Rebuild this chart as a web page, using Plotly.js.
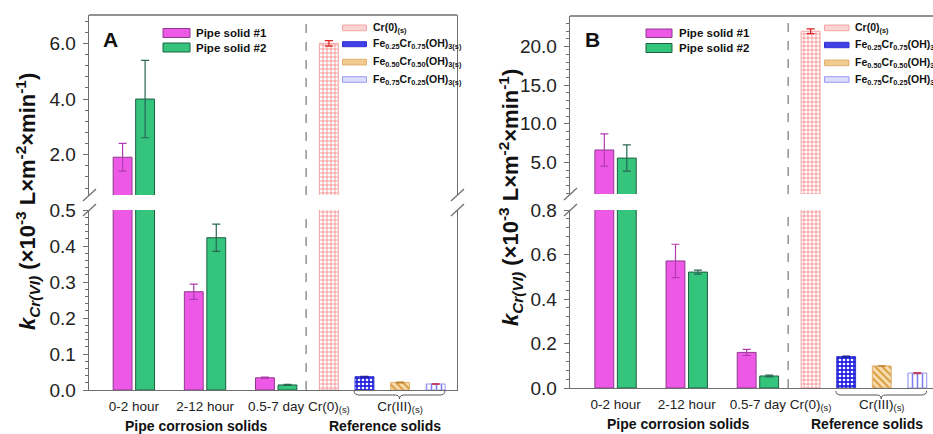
<!DOCTYPE html>
<html>
<head>
<meta charset="utf-8">
<script src="https://cdn.plot.ly/plotly-3.0.1.min.js"></script>
<style>html,body{margin:0;padding:0;background:#fff;}#chart{width:933px;height:434px;}</style>
</head>
<body>
<div id="chart"></div>
<script>
// ---------- data ----------
const periods = ['0-2 hour', '2-12 hour', '0.5-7 day'];
const pipeNames = ['Pipe solid #1', 'Pipe solid #2'];
const refNames = ['Cr(0)<sub>(s)</sub>',
  'Fe<sub>0.25</sub>Cr<sub>0.75</sub>(OH)<sub>3(s)</sub>',
  'Fe<sub>0.50</sub>Cr<sub>0.50</sub>(OH)<sub>3(s)</sub>',
  'Fe<sub>0.75</sub>Cr<sub>0.25</sub>(OH)<sub>3(s)</sub>'];
const refTickLabels = ['Cr(0)<sub>(s)</sub>', 'Cr(III)<sub>(s)</sub>'];
const groupLabels = ['Pipe corrosion solids', 'Reference solids'];

// Panel A
const pipe1A = [1.91, 0.273, 0.034];
const pipe1ErrA = [0.50, 0.021, 0.002];
const pipe2A = [4.00, 0.423, 0.014];
const pipe2ErrA = [1.39, 0.038, 0.0015];
const refA = [6.00, 0.037, 0.021, 0.0167];
const refErrA = [0.10, 0.001, 0.001, 0.001];
// Panel B
const pipe1B = [6.60, 0.571, 0.160];
const pipe1ErrB = [2.10, 0.075, 0.014];
const pipe2B = [5.55, 0.521, 0.054];
const pipe2ErrB = [1.70, 0.009, 0.004];
const refB = [22.0, 0.141, 0.099, 0.067];
const refErrB = [0.30, 0.002, 0.001, 0.002];

// ---------- helpers / styles ----------
const W = 933, TOP = 15, BOT = 390, H = BOT - TOP;
const PX = p => p / W;
const PY = p => (BOT - p) / H;
const FONT = 'Liberation Sans, Arial, sans-serif';
const AXC = '#6e6e6e';

const pipeStyle = [
  {fill: '#EE58E6', edge: '#8E3A8E', err: '#B23BB0'},
  {fill: '#34C47C', edge: '#1F5E40', err: '#2A6556'}
];
const refStyle = [
  {pattern: {shape: '+', fgcolor: '#F26A6A', bgcolor: '#ffffff', size: 4, solidity: 0.3}, edge: '#F4A6A6', err: '#E02020', swatch: '#FBD2D2'},
  {pattern: {shape: '.', fgcolor: '#ffffff', bgcolor: '#2222E0', size: 4, solidity: 0.35}, edge: '#3030D0', err: '#2020A0', swatch: '#4040E6'},
  {pattern: {shape: '\\', fgcolor: '#D99A3A', bgcolor: '#F6DDB0', size: 5, solidity: 0.4}, edge: '#E0B070', err: '#C08030', swatch: '#F0CC90'},
  {pattern: {shape: '|', fgcolor: '#7C7CF2', bgcolor: '#ffffff', size: 5, solidity: 0.3}, edge: '#9A9AF5', err: '#C04060', swatch: '#DCDCFF'}
];

const BARW = 0.53, OFF = 0.316;
const groupX = i => 1 + 2 * i;
const refX = j => 6.48 + j;

const traces = [];
function addPanel(xa, yaxes, pipes, pipeErrs, ref, refErr) {
  yaxes.forEach(ya => {
    pipes.forEach((vals, k) => {
      traces.push({
        type: 'bar', name: pipeNames[k], xaxis: xa, yaxis: ya, showlegend: false,
        x: periods.map((p, i) => groupX(i) + (k === 0 ? -OFF : OFF)),
        y: vals, width: BARW,
        marker: {color: pipeStyle[k].fill, line: {color: pipeStyle[k].edge, width: 1}},
        error_y: {type: 'data', array: pipeErrs[k], visible: true, color: pipeStyle[k].err, thickness: 1.2, width: 4},
        hoverinfo: 'x+y'
      });
    });
    ref.forEach((v, j) => {
      traces.push({
        type: 'bar', name: refNames[j], xaxis: xa, yaxis: ya, showlegend: false,
        x: [refX(j)], y: [v], width: BARW,
        marker: {color: refStyle[j].pattern.bgcolor, pattern: refStyle[j].pattern, line: {color: refStyle[j].edge, width: 1}},
        error_y: {type: 'data', array: [refErr[j]], visible: true, color: refStyle[j].err, thickness: 1.2, width: 4}
      });
    });
  });
}
addPanel('x', ['y', 'y2'], [pipe1A, pipe2A], [pipe1ErrA, pipe2ErrA], refA, refErrA);
addPanel('x2', ['y3', 'y4'], [pipe1B, pipe2B], [pipe1ErrB, pipe2ErrB], refB, refErrB);

const tickVals = [groupX(0), groupX(1), groupX(2), refX(0), (refX(1) + refX(3)) / 2];
const tickText = periods.concat(refTickLabels);

function xAxis(domain, range, anchor) {
  return {domain: domain, range: range, anchor: anchor, showline: true, linecolor: AXC, linewidth: 1.3,
    tickvals: tickVals, ticktext: tickText, ticks: '', ticklabelstandoff: 3,
    tickfont: {family: FONT, size: 13.5, color: '#222'}, showgrid: false, zeroline: false, fixedrange: true};
}
function yAxis(domain, range, tickvals, minorDt, mirror) {
  return {domain: domain, range: range, anchor: null, showline: true, linecolor: AXC, linewidth: 1.3, mirror: mirror,
    tickvals: tickvals, tickformat: '.1f', ticks: 'outside', ticklen: 5, tickcolor: AXC, tickwidth: 1,
    minor: {dtick: minorDt, ticks: 'outside', ticklen: 3, tickcolor: AXC, tickwidth: 1},
    ticklabelstandoff: 3,
    tickfont: {family: FONT, size: 19, color: '#222'}, showgrid: false, zeroline: false, fixedrange: true};
}

const layout = {
  width: W, height: 434, margin: {l: 0, r: 0, t: TOP, b: 434 - BOT},
  paper_bgcolor: '#fff', plot_bgcolor: 'rgba(0,0,0,0)', barmode: 'overlay', showlegend: false,
  font: {family: FONT, color: '#222'},
  xaxis: xAxis([PX(89), PX(457)], [-0.26, 10.08], 'y'),
  yaxis: Object.assign(yAxis([0, PY(210)], [0, 0.5], [0, 0.1, 0.2, 0.3, 0.4, 0.5], 0.02, true), {anchor: 'x'}),
  yaxis2: Object.assign(yAxis([PY(195), 1], [0.553, 7.02], [2, 4, 6], 0.4, true), {anchor: 'x'}),
  xaxis2: xAxis([PX(570), 1], [-0.28, 9.92], 'y3'),
  yaxis3: Object.assign(yAxis([PY(388), PY(210)], [0, 0.8], [0, 0.2, 0.4, 0.6, 0.8], 0.04, false), {anchor: 'x2'}),
  yaxis4: Object.assign(yAxis([PY(194), PY(16)], [0.89, 23.98], [5, 10, 15, 20], 1, false), {anchor: 'x2'}),
  shapes: [], annotations: []
};

const S = layout.shapes, A = layout.annotations;
// top borders
S.push({type: 'line', xref: 'x domain', x0: 0, x1: 1, yref: 'y2 domain', y0: 1, y1: 1, line: {color: AXC, width: 1.3}});
S.push({type: 'line', xref: 'x2 domain', x0: 0, x1: 1, yref: 'y4 domain', y0: 1, y1: 1, line: {color: AXC, width: 1.3}});
// dashed separators
[['x', 'y', 'y2', 5.84], ['x2', 'y3', 'y4', 5.85]].forEach(([xa, ylo, yhi, xv]) => {
  [ylo, yhi].forEach(ya => S.push({type: 'line', xref: xa, x0: xv, x1: xv, yref: ya + ' domain', y0: 0, y1: 0.98,
    line: {color: '#808080', width: 1.3, dash: 'dash'}}));
});
// axis break marks
function slash(xa, xd, ya, yd) {
  S.push({type: 'line', xref: xa + ' domain', xsizemode: 'pixel', xanchor: xd, x0: -6, x1: 7,
    yref: ya + ' domain', ysizemode: 'pixel', yanchor: yd, y0: -6, y1: 6, line: {color: AXC, width: 1.2}});
}
slash('x', 0, 'y2', 0); slash('x', 0, 'y', 1); slash('x', 1, 'y2', 0); slash('x', 1, 'y', 1);
slash('x2', 0, 'y4', 0); slash('x2', 0, 'y3', 1);
// bottom edge of the upper bar pieces
// braces under Cr(III)
function brace(xa, x0, x1) {
  const xc = (x0 + x1) / 2, a = PY(391), b = PY(395), c = PY(399);
  S.push({type: 'path', xref: xa, yref: 'paper', line: {color: '#555', width: 1},
    path: `M${x0},${a} Q${x0},${b} ${x0 + 0.15},${b} L${xc - 0.12},${b} Q${xc},${b} ${xc},${c} Q${xc},${b} ${xc + 0.12},${b} L${x1 - 0.15},${b} Q${x1},${b} ${x1},${a}`});
}
brace('x', refX(1) - 0.29, refX(3) + 0.26);
brace('x2', refX(1) - 0.29, refX(3) + 0.26);

// group labels
[['x', 'y', 426], ['x2', 'y3', 424]].forEach(([xa, ya, py]) => {
  A.push({xref: xa, yref: 'paper', x: (groupX(0) + groupX(2)) / 2 - 0.23, y: PY(py), text: '<b>' + groupLabels[0] + '</b>',
    showarrow: false, font: {family: FONT, size: 14, color: '#111'}, xanchor: 'center', yanchor: 'middle', borderpad: 0});
  A.push({xref: xa, yref: 'paper', x: refX(1) + 0.58, y: PY(py), text: '<b>' + groupLabels[1] + '</b>',
    showarrow: false, font: {family: FONT, size: 14, color: '#111'}, xanchor: 'center', yanchor: 'middle', borderpad: 0});
});

// y titles
const yTitle = '<b><i>k</i><sub><i>Cr(VI)</i></sub> (×10<sup>-3</sup> L×m<sup>-2</sup>×min<sup>-1</sup>)</b>';
[[27, 202], [510, 198]].forEach(([px, py]) => A.push({xref: 'paper', yref: 'paper', x: PX(px), y: PY(py), text: yTitle,
  textangle: -90, showarrow: false, font: {family: FONT, size: 22, color: '#111'}, xanchor: 'center', yanchor: 'middle'}));

// panel labels
[['A', 110], ['B', 592]].forEach(([t, px]) => A.push({xref: 'paper', yref: 'paper', x: PX(px), y: PY(40), text: '<b>' + t + '</b>',
  showarrow: false, font: {family: FONT, size: 21, color: '#111'}, xanchor: 'center', yanchor: 'middle'}));

// manual legends
function pipeLegend(x0, x1, tx, rows) {
  rows.forEach(([ya, yb], k) => {
    S.push({type: 'rect', xref: 'paper', yref: 'paper', x0: PX(x0), x1: PX(x1), y0: PY(yb), y1: PY(ya),
      fillcolor: pipeStyle[k].fill, line: {color: pipeStyle[k].edge, width: 1}});
    A.push({xref: 'paper', yref: 'paper', x: PX(tx), y: PY((ya + yb) / 2), text: '<b>' + pipeNames[k] + '</b>',
      showarrow: false, xanchor: 'left', yanchor: 'middle', font: {family: FONT, size: 11.5, color: '#111'}});
  });
}
pipeLegend(163, 190, 194, [[28.5, 37.5], [43, 52]]);
pipeLegend(646, 672, 677, [[29, 37.5], [43.5, 52.5]]);
function refLegend(x0, x1, tx, rows) {
  rows.forEach(([ya, yb], j) => {
    S.push({type: 'rect', xref: 'paper', yref: 'paper', x0: PX(x0), x1: PX(x1), y0: PY(yb), y1: PY(ya),
      fillcolor: refStyle[j].swatch, line: {color: refStyle[j].edge, width: 1}});
    A.push({xref: 'paper', yref: 'paper', x: PX(tx), y: PY((ya + yb) / 2), text: '<b>' + refNames[j] + '</b>',
      showarrow: false, xanchor: 'left', yanchor: 'middle', font: {family: FONT, size: 10.5, color: '#111'}});
  });
}
refLegend(342.5, 366.5, 370.5, [[25, 30.7], [41.7, 46.7], [59.3, 65], [76.7, 82.3]]);
refLegend(824.5, 849, 853, [[25, 30.7], [42.3, 47.7], [60, 65.7], [76.7, 82.3]]);

Plotly.newPlot('chart', traces, layout, {staticPlot: true, displayModeBar: false});
</script>
</body>
</html>
